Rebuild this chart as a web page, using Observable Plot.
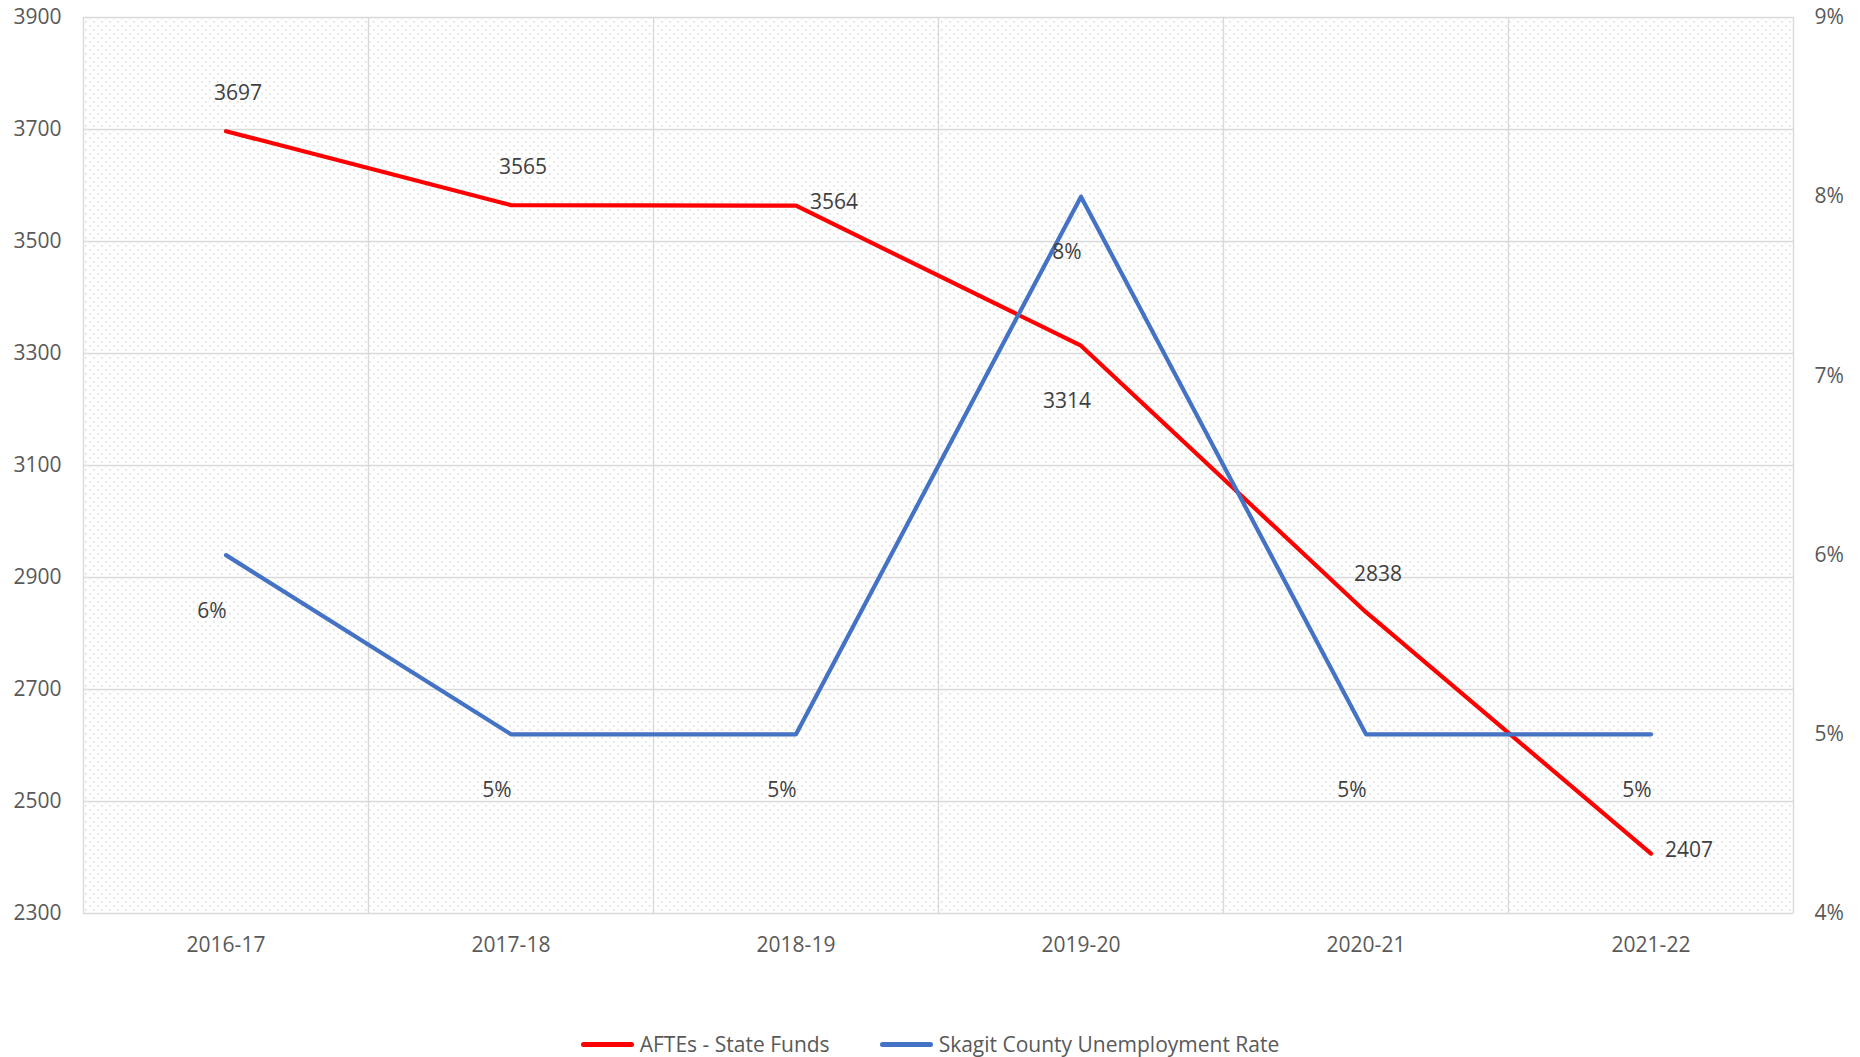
<!DOCTYPE html>
<html>
<head>
<meta charset="utf-8">
<script src="https://cdn.jsdelivr.net/npm/d3@7"></script>
<script src="https://cdn.jsdelivr.net/npm/@observablehq/plot@0.6"></script>
<style>
  body { margin: 0; background: #fff; font-family: "Open Sans", sans-serif; }
  #legend { width: 1860px; display: flex; justify-content: center; gap: 50px; padding-top: 21px; line-height: 26px; font-size: 21px; color: #595959; }
  .item { display: flex; align-items: center; gap: 6px; }
  .sw { width: 53px; height: 5px; border-radius: 2.5px; }
</style>
</head>
<body>
<div id="chart"></div>
<div id="legend"></div>
<script>
const years = ["2016-17", "2017-18", "2018-19", "2019-20", "2020-21", "2021-22"];
const aftes = [3697, 3565, 3564, 3314, 2838, 2407];
const unemployment = [6, 5, 5, 8, 5, 5];
const leftTicks = [2300, 2500, 2700, 2900, 3100, 3300, 3500, 3700, 3900];
const rightTicks = [4, 5, 6, 7, 8, 9];
const afteLabelPlacement = ["above", "above", "right", "below", "above", "right"];
const seriesNames = ["AFTEs - State Funds", "Skagit County Unemployment Rate"];
const seriesColors = ["#FF0000", "#4472C4"];

const yMin = 2300, yMax = 3900, uMin = 4, uMax = 9;
const toY = u => yMin + (u - uMin) * (yMax - yMin) / (uMax - uMin);
const fromY = v => uMin + (v - yMin) * (uMax - uMin) / (yMax - yMin);

const afteData = years.map((yr, i) => ({i, year: yr, value: aftes[i], pos: afteLabelPlacement[i]}));
const unempData = years.map((yr, i) => ({i, year: yr, rate: unemployment[i], y: toY(unemployment[i])}));
const bounds = d3.range(years.length + 1).map(k => k - 0.5);

const dotted = (index, scales, values, dims) => {
  const ns = "http://www.w3.org/2000/svg";
  const g = document.createElementNS(ns, "g");
  const defs = document.createElementNS(ns, "defs");
  const pat = document.createElementNS(ns, "pattern");
  pat.setAttribute("id", "dots");
  pat.setAttribute("width", 8);
  pat.setAttribute("height", 8);
  pat.setAttribute("patternUnits", "userSpaceOnUse");
  for (const [px, py] of [[1, 1], [5, 5]]) {
    const r = document.createElementNS(ns, "rect");
    r.setAttribute("x", px); r.setAttribute("y", py);
    r.setAttribute("width", 1.6); r.setAttribute("height", 1.6);
    r.setAttribute("fill", "#dcdcdc");
    pat.appendChild(r);
  }
  defs.appendChild(pat);
  g.appendChild(defs);
  const rect = document.createElementNS(ns, "rect");
  const x0 = scales.x(-0.5), x1 = scales.x(years.length - 0.5);
  const y0 = scales.y(yMax), y1 = scales.y(yMin);
  rect.setAttribute("x", x0); rect.setAttribute("y", y0);
  rect.setAttribute("width", x1 - x0); rect.setAttribute("height", y1 - y0);
  rect.setAttribute("fill", "url(#dots)");
  g.appendChild(rect);
  return g;
};

const labelFill = "#404040";
const FS = 21;
const placements = {
  above: {dx: 12, dy: -38},
  right: {dx: 38, dy: -3},
  below: {dx: -14, dy: 56}
};

const afteTextMarks = Object.entries(placements).map(([k, o]) =>
  Plot.text(afteData.filter(d => d.pos === k), {
    x: "i", y: "value", text: d => String(d.value), dx: o.dx, dy: o.dy,
    fill: labelFill, fontSize: FS
  })
);

const chart = Plot.plot({
  width: 1860,
  height: 1010,
  marginLeft: 83,
  marginRight: 67,
  marginTop: 17,
  marginBottom: 97,
  x: {type: "linear", domain: [-0.5, years.length - 0.5]},
  y: {domain: [yMin, yMax]},
  style: {fontFamily: "Open Sans", fontSize: FS + "px", color: "#595959", background: "white"},
  marks: [
    dotted,
    Plot.ruleY(leftTicks, {stroke: "#d9d9d9", strokeWidth: 1.4}),
    Plot.ruleX(bounds, {stroke: "#d9d9d9", strokeWidth: 1.4}),
    Plot.axisY(leftTicks, {anchor: "left", tickSize: 0, tickPadding: 22, label: null,
      tickFormat: d => String(d)}),
    Plot.axisY(rightTicks.map(toY), {anchor: "right", tickSize: 0, tickPadding: 21, label: null,
      tickFormat: v => Math.round(fromY(v)) + "%"}),
    Plot.axisX(d3.range(years.length), {anchor: "bottom", tickSize: 0, tickPadding: 24, label: null,
      tickFormat: i => years[i]}),
    Plot.line(afteData, {x: "i", y: "value", stroke: seriesColors[0], strokeWidth: 4.2}),
    Plot.line(unempData, {x: "i", y: "y", stroke: seriesColors[1], strokeWidth: 4.2}),
    ...afteTextMarks,
    Plot.text(unempData, {x: "i", y: "y", text: d => d.rate + "%", dx: -14, dy: 56, fill: labelFill, fontSize: FS})
  ]
});
document.getElementById("chart").appendChild(chart);

const legend = document.getElementById("legend");
seriesNames.forEach((name, k) => {
  const item = document.createElement("div");
  item.className = "item";
  const sw = document.createElement("div");
  sw.className = "sw";
  sw.style.background = seriesColors[k];
  const t = document.createElement("span");
  t.textContent = name;
  item.appendChild(sw);
  item.appendChild(t);
  legend.appendChild(item);
});
</script>
</body>
</html>
